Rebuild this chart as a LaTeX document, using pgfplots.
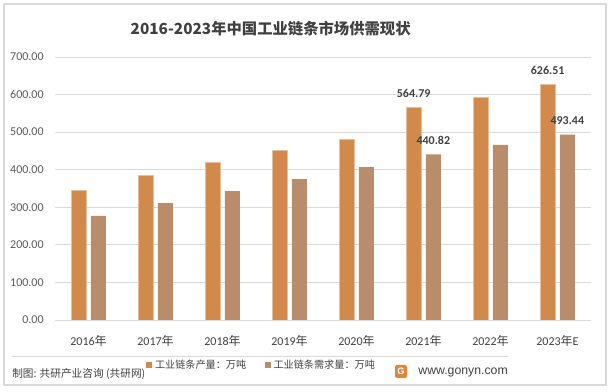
\documentclass[border=0pt]{standalone}
\usepackage{pgfplots}
\pgfplotsset{compat=1.18}
\usepackage{fontspec}
\setmainfont{Carlito}
\newfontfamily\cjk{Noto Sans CJK SC}
\newfontfamily\arialf{Liberation Sans}
\definecolor{prodc}{RGB}{210,138,76}
\definecolor{demc}{RGB}{185,140,107}
\definecolor{txt}{RGB}{64,64,64}
\definecolor{tick}{RGB}{89,89,89}
\definecolor{gridc}{RGB}{217,217,217}
\begin{document}
\begin{tikzpicture}
\useasboundingbox (0,0) rectangle (460.5pt,294pt);
% outer frame
\draw[gridc, line width=0.8pt] (3pt,5.25pt) rectangle (454.5pt,291pt);
% separator line
\draw[gridc, line width=0.6pt] (9pt,27pt) -- (381pt,27pt);
% title
\node[font=\cjk\bfseries\fontsize{11.5}{13}\selectfont, text=txt] at (203pt,272.25pt) {2016-2023年中国工业链条市场供需现状};
% source
\node[font=\cjk\fontsize{8}{10}\selectfont, text=txt, anchor=west, inner sep=0pt] at (9pt,13.5pt) {制图: 共研产业咨询 (共研网)};
% logo
\fill[prodc!80!orange, rounded corners=1.2pt] (296.25pt,10.5pt) rectangle (305.25pt,20.25pt);
\node[font=\arialf\bfseries\fontsize{7}{8}\selectfont, text=white, inner sep=0pt] at (300.75pt,15.4pt) {G};
\node[font=\arialf\fontsize{9.2}{11}\selectfont, text=txt, anchor=east, inner sep=0pt] at (381pt,15pt) {www.gonyn.com};
\begin{axis}[
  at={(41.25pt,54pt)}, anchor=south west,
  scale only axis, width=402pt, height=197.25pt,
  xmin=-0.5, xmax=7.5, ymin=0, ymax=700,
  enlargelimits=false,
  ybar=3.5pt, bar width=11.25pt,
  axis line style={draw=none},
  tick style={draw=none},
  ymajorgrids, grid style={draw=gridc, line width=0.6pt},
  ytick={0,100,...,700},
  scaled y ticks=false,
  /pgf/number format/assume math mode=true,
  yticklabel style={/pgf/number format/.cd, fixed, fixed zerofill, precision=2, assume math mode=true, /tikz/.cd, font=\fontsize{9}{10}\selectfont, text=tick, xshift=-5pt},
  xtick={0,...,7},
  xticklabels={2016{\cjk 年},2017{\cjk 年},2018{\cjk 年},2019{\cjk 年},2020{\cjk 年},2021{\cjk 年},2022{\cjk 年},2023{\cjk 年}E},
  xticklabel style={font=\fontsize{9}{10}\selectfont, text=txt, yshift=-4pt},
  nodes near coords,
  point meta=explicit symbolic,
  every node near coord/.append style={font=\bfseries\fontsize{9}{10}\selectfont, text=txt, yshift=4pt},
  legend columns=2,
  legend style={draw=none, fill=none, at={(0.17,-0.171)}, anchor=west, inner sep=0pt,
    font=\cjk\fontsize{7.6}{9}\selectfont, text=txt,
    /tikz/every even column/.append style={column sep=12pt}},
  legend image code/.code={\fill[#1,draw=none] (0pt,-2.25pt) rectangle (4.5pt,2.25pt);},
]
\addplot[fill=prodc, draw=prodc!55!white, line width=0.6pt] coordinates {
 (0,345) [] (1,385) [] (2,419) [] (3,451) [] (4,481) [] (5,564.79) [564.79] (6,593) [] (7,626.51) [626.51]};
\addlegendentry{工业链条产量：万吨}
\addplot[fill=demc, draw=none] coordinates {
 (0,277) [] (1,311) [] (2,343) [] (3,375) [] (4,407) [] (5,440.82) [440.82] (6,466) [] (7,493.44) [493.44]};
\addlegendentry{工业链条需求量：万吨}
\end{axis}
\end{tikzpicture}
\end{document}
